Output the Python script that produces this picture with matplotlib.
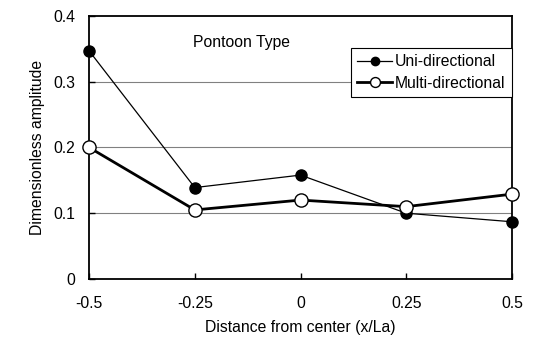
import matplotlib.pyplot as plt
import numpy as np

plt.rcParams['font.family'] = ['Liberation Sans', 'DejaVu Sans']

# distance from pontoon center and measured amplitudes
x_pos = [-0.5, -0.25, 0, 0.25, 0.5]
uni = [0.347, 0.139, 0.158, 0.100, 0.087]
multi = [0.200, 0.105, 0.120, 0.110, 0.129]
xtick_labels = ['-0.5', '-0.25', '0', '0.25', '0.5']
ytick_labels = ['0', '0.1', '0.2', '0.3', '0.4']

fs = 11.3

fig = plt.figure(figsize=(5.57, 3.41), dpi=100)
ax = fig.add_axes([0.16, 0.182, 0.759, 0.771])

for yv in [0.1, 0.2, 0.3]:
    ax.axhline(yv, color='#808080', lw=0.8, zorder=1)

ax.plot(x_pos, uni, '-o', color='black', lw=0.9, ms=8, mfc='black', mec='black',
        label='Uni-directional', zorder=3, clip_on=False)
ax.plot(x_pos, multi, '-o', color='black', lw=2.0, ms=9.5, mfc='white', mec='black',
        mew=1.0, label='Multi-directional', zorder=4, clip_on=False)

ax.set_xlim(-0.5, 0.5)
ax.set_ylim(0, 0.4)
ax.set_xticks(x_pos)
ax.set_xticklabels(xtick_labels)
ax.set_yticks([0, 0.1, 0.2, 0.3, 0.4])
ax.set_yticklabels(ytick_labels)
ax.tick_params(direction='in', length=4, width=1, labelsize=fs)
ax.tick_params(axis='x', pad=12)
ax.tick_params(axis='y', pad=10)
for sp in ax.spines.values():
    sp.set_linewidth(1.3)

ax.set_xlabel('Distance from center (x/La)', fontsize=fs, labelpad=7)
ax.set_ylabel('Dimensionless amplitude', fontsize=fs, labelpad=6)

ax.text(193 / 557, 1 - 42 / 341, 'Pontoon Type', transform=fig.transFigure,
        fontsize=fs, va='center')

leg = ax.legend(loc='upper left', bbox_to_anchor=(351 / 557, 1 - 48 / 341),
                bbox_transform=fig.transFigure, fontsize=fs, frameon=True,
                fancybox=False, edgecolor='black', framealpha=1,
                markerscale=0.75, handlelength=2.2, handletextpad=0.2,
                borderpad=0.4, labelspacing=0.4, borderaxespad=0)
leg.get_frame().set_linewidth(0.8)

fig.savefig('out.png', dpi=100)
